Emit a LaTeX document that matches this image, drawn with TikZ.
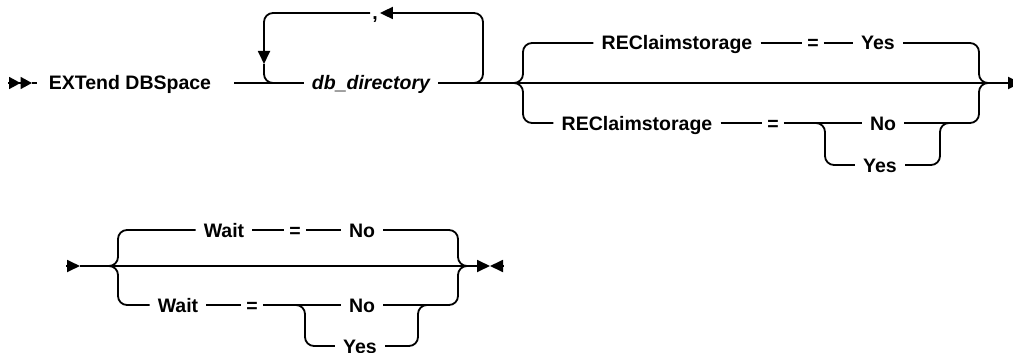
\documentclass[tikz,border=0pt]{standalone}
\usepackage{fontspec}
\setmainfont{Liberation Sans}
\usetikzlibrary{arrows.meta}

\newcommand{\railfont}{\fontsize{19.5}{22}\selectfont\bfseries}

\begin{document}
\begin{tikzpicture}[
  x=1pt,
  y=-1pt,
  rail/.style={line width=1.8pt},
  railbend/.style={rounded corners=9pt},
  railtip/.style={-{Triangle[length=13pt,width=12pt]}},
  dbltip/.style={-{Triangle[length=11.5pt,width=12pt]Triangle[length=11.5pt,width=12pt]}},
  kw/.style={inner xsep=8pt, inner ysep=0pt, text height=14pt, text depth=0pt,
    font=\railfont},
  sym/.style={kw, inner xsep=5pt},
  var/.style={kw, font=\railfont\itshape}
]
\useasboundingbox (0,0) rectangle (1013,353);

\node[kw] (cmd) at (130,83) {EXTend DBSpace};
\node[var] (dbdir) at (371,83) {db\_directory};
\node[sym, inner xsep=2pt] (comma) at (375,13) {,};

\node[kw] (rec1) at (677,43) {REClaimstorage};
\node[sym] (eq1) at (813,43) {=};
\node[kw] (yes1) at (878,43) {Yes};
\node[kw] (rec2) at (637,123) {REClaimstorage};
\node[sym] (eq2) at (773,123) {=};
\node[kw] (no2) at (883,123) {No};
\node[kw] (yes2) at (880,165) {Yes};

\node[kw] (wait1) at (224,230) {Wait};
\node[sym] (eq3) at (295,230) {=};
\node[kw] (no3) at (362,230) {No};
\node[kw] (wait2) at (178,305) {Wait};
\node[sym] (eq4) at (252,305) {=};
\node[kw] (no4) at (362,305) {No};
\node[kw] (yes4) at (360,346) {Yes};

\coordinate (s0) at (8,83);
\coordinate (s1) at (32,83);
\coordinate (s2) at (37,83);
\coordinate (m0) at (234,83);
\coordinate (lpl) at (264,64);
\coordinate (lpr) at (483,13);
\coordinate (e0) at (1021,83);
\coordinate (f1l) at (513,83);
\coordinate (f1r) at (989,83);
\coordinate (g1l) at (815,123);
\coordinate (g1r) at (950,123);

\draw[rail, dbltip] (s0) -- (s1);
\draw[rail] (s1) -- (s2);
\draw[rail] (m0) -- (dbdir.west);
\draw[rail, railbend, railtip] (dbdir.east) -| (lpr) -- (comma.east);
\draw[rail, railbend, railtip] (comma.west) -| (lpl);
\draw[rail, railbend] (lpl) |- (dbdir.west);
\draw[rail, railtip] (dbdir.east) -- (e0);

\draw[rail, railbend] (f1l) -- ++(10,0) |- (rec1.west);
\draw[rail, railbend] (f1l) -- ++(10,0) |- (rec2.west);
\draw[rail] (rec1) -- (eq1);
\draw[rail] (eq1) -- (yes1);
\draw[rail, railbend] (f1r) -- ++(-10,0) |- (yes1.east);
\draw[rail, railbend] (f1r) -- ++(-10,0) |- (no2.east);
\draw[rail] (rec2) -- (eq2);
\draw[rail] (eq2) -- (no2);
\draw[rail, railbend] (g1l) -- ++(10,0) |- (yes2.west);
\draw[rail, railbend] (g1r) -- ++(-10,0) |- (yes2.east);

\coordinate (b0) at (66,266);
\coordinate (b1) at (80,266);
\coordinate (f2l) at (110,266);
\coordinate (f2r) at (466,266);
\coordinate (t0) at (490,266);
\coordinate (t1) at (503,266);
\coordinate (g2l) at (295,305);
\coordinate (g2r) at (428,305);

\draw[rail, railtip] (b0) -- (b1);
\draw[rail, railtip] (b1) -- (t0);
\draw[rail, railtip] (t1) -- (t0);
\draw[rail, railbend] (f2l) -- ++(8,0) |- (wait1.west);
\draw[rail, railbend] (f2l) -- ++(8,0) |- (wait2.west);
\draw[rail] (wait1) -- (eq3);
\draw[rail] (eq3) -- (no3);
\draw[rail, railbend] (f2r) -- ++(-8,0) |- (no3.east);
\draw[rail, railbend] (f2r) -- ++(-8,0) |- (no4.east);
\draw[rail] (wait2) -- (eq4);
\draw[rail] (eq4) -- (no4);
\draw[rail, railbend] (g2l) -- ++(10,0) |- (yes4.west);
\draw[rail, railbend] (g2r) -- ++(-10,0) |- (yes4.east);

\end{tikzpicture}
\end{document}
